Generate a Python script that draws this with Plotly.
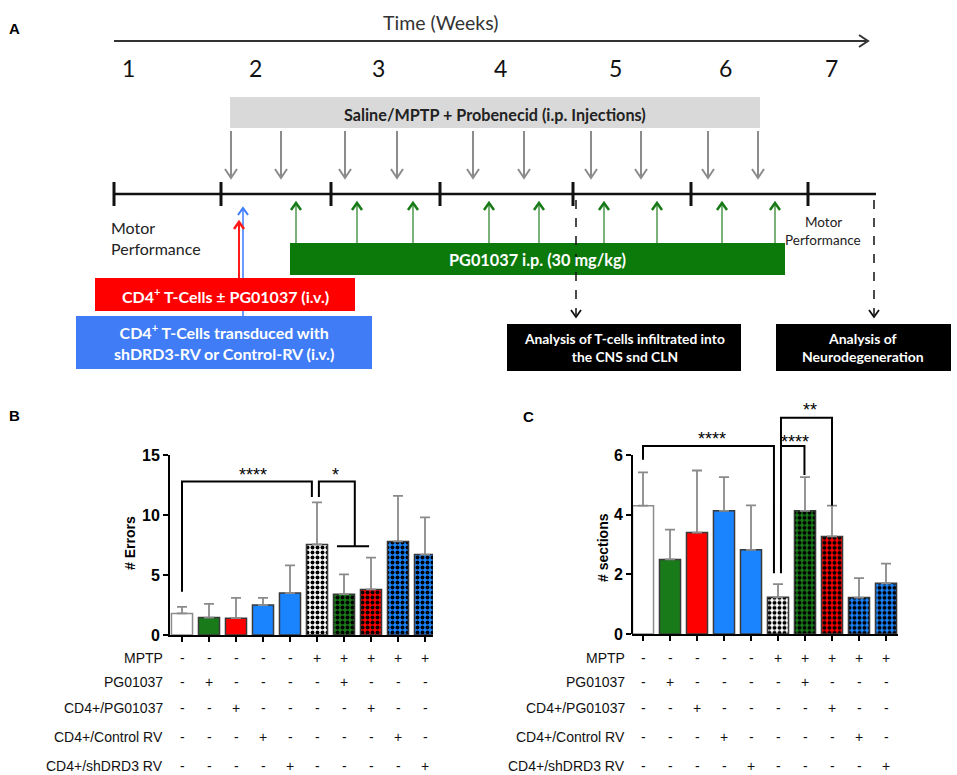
import plotly.graph_objects as go

W, H = 957, 775

# ---------------- data ----------------
groups = ["Saline", "PG01037", "CD4+/PG01037", "CD4+/Control RV", "CD4+/shDRD3 RV",
          "MPTP", "MPTP + PG01037", "MPTP + CD4+/PG01037", "MPTP + CD4+/Control RV",
          "MPTP + CD4+/shDRD3 RV"]
errors_mean = [1.8, 1.45, 1.4, 2.5, 3.5, 7.55, 3.4, 3.8, 7.8, 6.7]
errors_sem = [0.55, 1.15, 1.7, 0.6, 2.3, 3.5, 1.65, 2.65, 3.8, 3.1]
sections_mean = [4.3, 2.5, 3.4, 4.13, 2.82, 1.23, 4.13, 3.27, 1.22, 1.7]
sections_sem = [1.12, 1.0, 2.08, 1.13, 1.49, 0.44, 1.13, 1.03, 0.65, 0.66]
bar_colors = ["#ffffff", "#187a18", "#ff0000", "#1a84ff", "#1a84ff",
              "#ffffff", "#187a18", "#ff0000", "#1a84ff", "#1a84ff"]
checkered = [False] * 5 + [True] * 5
table_rows = ["MPTP", "PG01037", "CD4+/PG01037", "CD4+/Control RV", "CD4+/shDRD3 RV"]
table_signs = [
    ["-", "-", "-", "-", "-", "+", "+", "+", "+", "+"],
    ["-", "+", "-", "-", "-", "-", "+", "-", "-", "-"],
    ["-", "-", "+", "-", "-", "-", "-", "+", "-", "-"],
    ["-", "-", "-", "+", "-", "-", "-", "-", "+", "-"],
    ["-", "-", "-", "-", "+", "-", "-", "-", "-", "+"],
]
weeks = ["1", "2", "3", "4", "5", "6", "7"]

# ---------------- helpers (pixel -> paper) ----------------
def px(x):
    return x / W

def py(y):
    return 1 - y / H

shapes = []
annotations = []

def rect(x0, y0, x1, y1, fill):
    shapes.append(dict(type="rect", xref="paper", yref="paper", x0=px(x0), x1=px(x1),
                       y0=py(y1), y1=py(y0), fillcolor=fill, line=dict(width=0)))

def line(x0, y0, x1, y1, color, width, dash="solid"):
    shapes.append(dict(type="line", xref="paper", yref="paper", x0=px(x0), x1=px(x1),
                       y0=py(y0), y1=py(y1), line=dict(color=color, width=width, dash=dash)))

def chevron(x, y, direction, color, width, s=5, h=7):
    if direction == "down":
        pts = [(x - s, y - h), (x, y), (x + s, y - h)]
    elif direction == "up":
        pts = [(x - s, y + h), (x, y), (x + s, y + h)]
    else:  # right
        pts = [(x - h, y - s), (x, y), (x - h, y + s)]
    path = "M {} {} L {} {} L {} {}".format(px(pts[0][0]), py(pts[0][1]), px(pts[1][0]),
                                          py(pts[1][1]), px(pts[2][0]), py(pts[2][1]))
    shapes.append(dict(type="path", xref="paper", yref="paper", path=path,
                       line=dict(color=color, width=width)))

def text(x, y, t, size, color="#000", bold=False, family="Lato", xanchor="center"):
    annotations.append(dict(x=px(x), y=py(y), xref="paper", yref="paper", text=t,
                            showarrow=False, xanchor=xanchor, yanchor="middle",
                            font=dict(size=size, color=color, family=family,
                                      weight="bold" if bold else "normal")))

# ---------------- Panel A (schematic) ----------------
text(15, 28, "A", 15, bold=True, family="Liberation Sans")
text(440, 22, "Time (Weeks)", 19.5, color="#333")
line(114, 41, 866, 41, "#333", 2)
chevron(868, 41, "right", "#333", 2, s=6, h=9)
week_x = [128, 255, 378, 500, 615, 725, 831]
for wx, wl in zip(week_x, weeks):
    text(wx, 68, wl, 23, color="#111")

rect(230, 97, 760, 128, "#d9d9d9")
text(495, 114, "Saline/MPTP + Probenecid (i.p. Injections)", 16.2, color="#222", bold=True)
for gx in [231, 281, 345, 397, 473, 524, 591, 641, 708, 758]:
    line(gx, 131, gx, 177, "#8c8c8c", 2)
    chevron(gx, 178, "down", "#8c8c8c", 2, s=6, h=9)

line(114, 194, 876, 194, "#111", 2.5)
for tx in [114, 221, 331, 440, 573, 691, 808]:
    line(tx, 182, tx, 206, "#111", 3)

text(109, 227, "Motor", 16, color="#222", xanchor="left")
text(109, 248, "Performance", 16, color="#222", xanchor="left")

# blue and red arrows (drawn before boxes)
line(243, 316, 243, 210, "#3b7bff", 1.5)
chevron(243, 208, "up", "#3b7bff", 2, s=5, h=7)
line(239, 279, 239, 224, "#ff1a1a", 2)
chevron(239, 222, "up", "#ff1a1a", 2.5, s=5, h=7)

rect(290, 243, 785, 275, "#0b7a0b")
text(537, 259, "PG01037 i.p. (30 mg/kg)", 16.3, color="#fff", bold=True)
for gx in [296, 357, 413, 489, 539, 604, 657, 722, 775]:
    line(gx, 243, gx, 205, "#4c9a4c", 1.5)
    chevron(gx, 203, "up", "#177a17", 2.5, s=5, h=7)

rect(95, 278, 355, 311, "#ff0000")
text(225, 295, "CD4<sup>+</sup> T-Cells \u00b1 PG01037 (i.v.)", 16, color="#fff", bold=True)
rect(76, 316, 372, 369, "#3f7cf5")
text(224, 342, "CD4<sup>+</sup> T-Cells transduced with<br>shDRD3-RV or Control-RV (i.v.)", 16,
     color="#fff", bold=True)

for dx in [576, 874]:
    line(dx, 200, dx, 315, "#111", 1.5, dash="dash")
    chevron(dx, 317, "down", "#111", 1.8, s=5, h=7)

text(823, 222, "Motor", 13.5, color="#222")
text(823, 240, "Performance", 13.5, color="#222")

rect(507, 324, 741, 371, "#000000")
text(624, 347, "Analysis of T-cells infiltrated into<br>the CNS snd CLN", 13.8, color="#fff", bold=True)
rect(776, 324, 951, 371, "#000000")
text(863, 347, "Analysis of<br>Neurodegeneration", 14, color="#fff", bold=True)

# ---------------- Panels B and C ----------------
xs = list(range(len(groups)))
line_colors = ["#8c8c8c" if (c == "#ffffff" and not k) else "#3a3a3a"
               for c, k in zip(bar_colors, checkered)]

fig = go.Figure()

def add_bars(means, sems, xa, ya):
    for i in xs:
        pat = (dict(shape=".", fgcolor="#000000", bgcolor=bar_colors[i], fgopacity=1,
                    size=5, solidity=0.5, fillmode="overlay") if checkered[i] else dict(shape=""))
        fig.add_trace(go.Bar(
            x=[i], y=[means[i]], xaxis=xa, yaxis=ya, width=0.78, name=groups[i],
            marker=dict(color=bar_colors[i], line=dict(color=line_colors[i], width=1.5),
                        pattern=pat),
            error_y=dict(type="data", array=[sems[i]], arrayminus=[0], symmetric=False,
                         color="#8a8a8a", thickness=1.8, width=5),
            showlegend=False))

add_bars(errors_mean, errors_sem, "x", "y")
add_bars(sections_mean, sections_sem, "x2", "y2")

# B axes: 0 at y=635px, 15 at y=455px ; bars at 182 + 27*i
B_x0, B_x1 = 170, 433
C_x0, C_x1 = 632, 898
B_xr = [(B_x0 - 182) / 27, (B_x1 - 182) / 27]
C_xr = [(C_x0 - 643) / 27, (C_x1 - 643) / 27]
C_ppu = (634 - 455) / 6.0
C_top = 634 - 8 * C_ppu

axis_font = dict(family="Liberation Sans", size=16, color="#000", weight="bold")
common_x = dict(showgrid=False, zeroline=False, showline=True, linecolor="#000", linewidth=2,
                ticks="outside", ticklen=5, tickwidth=1.5, tickcolor="#000",
                tickvals=xs, showticklabels=False, fixedrange=True, automargin=False)
common_y = dict(showgrid=False, zeroline=False, ticks="outside", ticklen=5, tickwidth=2,
                tickcolor="#000", tickfont=axis_font, fixedrange=True, automargin=False)

fig.update_layout(
    width=W, height=H, margin=dict(l=0, r=0, t=0, b=0, pad=0, autoexpand=False),
    paper_bgcolor="#ffffff", plot_bgcolor="rgba(0,0,0,0)", barmode="overlay",
    xaxis=dict(domain=[px(B_x0), px(B_x1)], range=B_xr, anchor="y", **common_x),
    yaxis=dict(domain=[py(635), py(455)], range=[0, 15], tickvals=[0, 5, 10, 15], anchor="x",
               showline=True, linecolor="#000", linewidth=2, **common_y),
    xaxis2=dict(domain=[px(C_x0), px(C_x1)], range=C_xr, anchor="y2", **common_x),
    yaxis2=dict(domain=[py(634), py(C_top)], range=[0, 8], tickvals=[0, 2, 4, 6], anchor="x2",
                showline=False, **common_y),
)

# manual y-axis line for C (0..6)
line(C_x0, 634, C_x0, 455, "#000", 2)

# axis titles
annotations.append(dict(x=px(130), y=py(543), xref="paper", yref="paper", text="# Errors",
                        textangle=-90, showarrow=False, xanchor="center", yanchor="middle",
                        font=dict(family="Liberation Sans", size=14, weight="bold", color="#000")))
annotations.append(dict(x=px(603), y=py(548), xref="paper", yref="paper", text="# sections",
                        textangle=-90, showarrow=False, xanchor="center", yanchor="middle",
                        font=dict(family="Liberation Sans", size=14, weight="bold", color="#000")))

text(15, 415, "B", 15, bold=True, family="Liberation Sans")
text(528, 416, "C", 15, bold=True, family="Liberation Sans")

# significance brackets
def bracket(pts, xref, yref):
    path = "M " + " L ".join("{} {}".format(a, b) for a, b in pts)
    shapes.append(dict(type="path", xref=xref, yref=yref, path=path,
                       line=dict(color="#000", width=2)))

def stars(x, y, t, xref, yref):
    annotations.append(dict(x=x, y=y, xref=xref, yref=yref, text=t, showarrow=False,
                            font=dict(family="Liberation Sans", size=18, color="#000")))

# B
bracket([(0, 3.6), (0, 12.8), (4.81, 12.8), (4.81, 11.5)], "x", "y")
bracket([(5.07, 11.5), (5.07, 12.8), (6.4, 12.8), (6.4, 7.4)], "x", "y")
bracket([(5.74, 7.4), (6.93, 7.4)], "x", "y")
stars(2.63, 13.3, "****", "x", "y")
stars(5.67, 13.3, "*", "x", "y")
# C
bracket([(0, 5.84), (0, 6.3), (4.85, 6.3), (4.85, 2.04)], "x2", "y2")
bracket([(5.11, 2.04), (5.11, 7.25), (7.0, 7.25), (7.0, 4.3)], "x2", "y2")
bracket([(5.11, 6.3), (5.98, 6.3), (5.98, 5.33)], "x2", "y2")
stars(2.56, 6.55, "****", "x2", "y2")
stars(5.62, 6.45, "****", "x2", "y2")
stars(6.19, 7.5, "**", "x2", "y2")

# condition table
row_y = [658, 682, 708, 737, 766]
for r, (lab, signs) in enumerate(zip(table_rows, table_signs)):
    for label_x, xref in [(165, "x"), (627, "x2")]:
        annotations.append(dict(x=px(label_x), y=py(row_y[r]), xref="paper", yref="paper",
                                text=lab, showarrow=False, xanchor="right", yanchor="middle",
                                font=dict(family="Liberation Sans", size=14, color="#111")))
        for i, s in enumerate(signs):
            annotations.append(dict(x=i, y=py(row_y[r]), xref=xref, yref="paper", text=s,
                                    showarrow=False, yanchor="middle",
                                    font=dict(family="Liberation Sans", size=14, color="#111")))

fig.update_layout(shapes=shapes, annotations=annotations)
fig.write_html("out.html", config={"displayModeBar": False},
               post_script="document.body.style.margin='0';document.body.style.overflow='hidden';")
